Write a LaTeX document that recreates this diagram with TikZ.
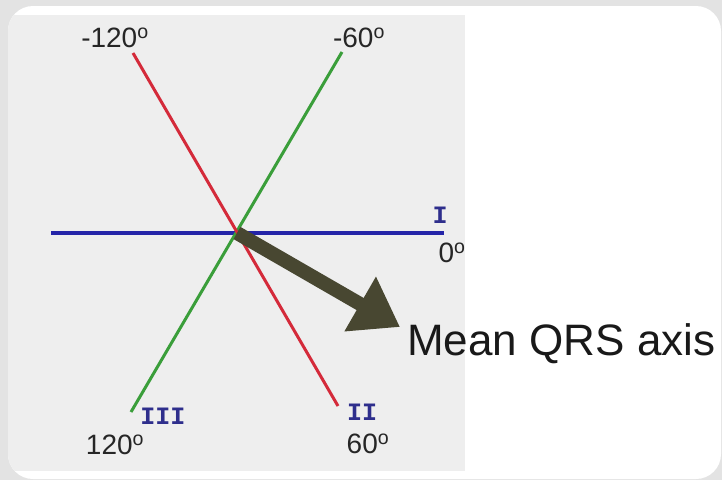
\documentclass[tikz,border=0pt]{standalone}
\usepackage{fontspec}
\setmainfont{Liberation Sans}
\newfontfamily\leadfont{Liberation Mono}
\usepackage{tikz}
\usetikzlibrary{
	arrows.meta,
	positioning
}
\definecolor{pagegray}{HTML}{E3E3E3}
\definecolor{panelgray}{HTML}{EEEEEE}
\definecolor{leadI}{HTML}{2424A8}
\definecolor{leadII}{HTML}{D42A3A}
\definecolor{leadIII}{HTML}{3A9E3A}
\definecolor{leadname}{HTML}{2E2E8C}
\definecolor{axisolive}{HTML}{484731}

\begin{document}
\begin{tikzpicture}[x=1pt, y=-1pt,
				lead/.style={line width=3pt},
				deg/.style={
					inner sep=0pt, text=black!85,
					font=\fontsize{28}{30}\selectfont
				},
				leadlabel/.style={
					inner sep=0pt, text=leadname,
					font=\leadfont\bfseries\fontsize{25}{26}\selectfont
				},
				qrs/.style={
					-{Triangle[length=46pt, width=60pt]},
					line width=14pt, draw=axisolive
				}
				]
				
				% frame
				\fill[pagegray] (0,0) rectangle (722,480);
				\fill[white, rounded corners=25pt] (8,6) rectangle (721,479);
				\begin{scope}
					\clip[rounded corners=25pt] (8,6) rectangle (721,479);
					\fill[panelgray] (8,15) rectangle (465,471);
				\end{scope}
				
				% centre and lead ends
				\coordinate (o) at (237,233);
				\coordinate (Ileft) at (51,233);
				\coordinate (Iright) at (444,233);
				\coordinate (IIa) at (133,53);
				\coordinate (IIb) at (338,406);
				\coordinate (IIIa) at (342,52);
				\coordinate (IIIb) at (131,412);
				\coordinate (tip) at (400,327);
				
				% leads
				\draw[lead, leadI, line width=3.4pt] (Ileft) -- (Iright);
				\draw[lead, leadIII] (IIIa) -- (IIIb);
				\draw[lead, leadII] (IIa) -- (IIb);
				
				% mean axis
				\draw[qrs] (o) -- (tip);
				
				% angles
				\node[deg] (m120) at (115,38) {-120\textsuperscript{o}};
				\node[deg] (m60) at (359,38) {-60\textsuperscript{o}};
				\node[deg] (p0) at (452,253) {0\textsuperscript{o}};
				\node[deg] (p120) at (115,445) {120\textsuperscript{o}};
				\node[deg] (p60) at (368,444) {60\textsuperscript{o}};
				
				% lead names
				\node[leadlabel] (nI) at (440,215) {I};
				\node[leadlabel] (nII) at (362,412) {II};
				\node[leadlabel] (nIII) at (163,416) {III};
				
				% caption
				\node[anchor=base west, inner sep=0pt, text=black!90,
					font=\fontsize{44}{46}\selectfont] (mean) at (407,355) {Mean QRS axis};
			\end{tikzpicture}
\end{document}
